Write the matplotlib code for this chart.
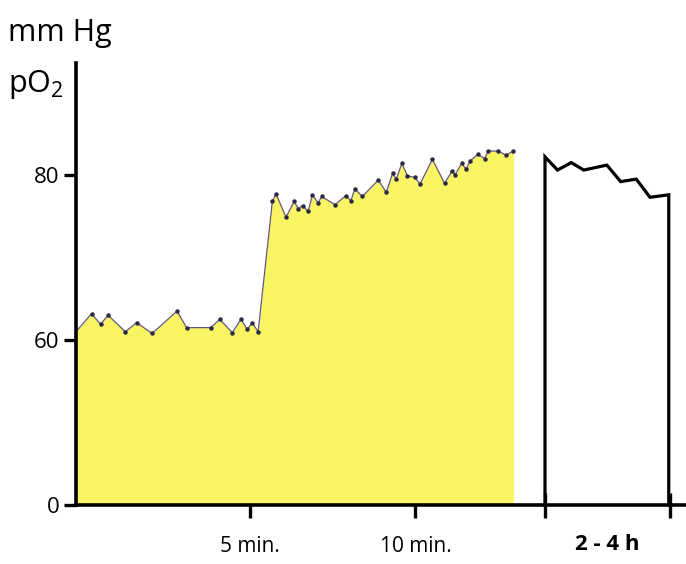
import numpy as np
import matplotlib
matplotlib.use("Agg")
import matplotlib.pyplot as plt

plt.rcParams['font.family'] = ['Open Sans', 'DejaVu Sans']
plt.rcParams['mathtext.fontset'] = 'custom'
plt.rcParams['mathtext.rm'] = 'Open Sans'

# ---- data (minutes, mm Hg) ----
t_min = [-0.25, 0.22, 0.49, 0.72, 1.24, 1.58, 2.05, 2.80, 3.09, 3.82, 4.09, 4.47,
         4.73, 4.92, 5.07, 5.25, 5.68, 5.79, 6.09, 6.34, 6.46, 6.59, 6.76, 6.89,
         7.06, 7.17, 7.57, 7.90, 8.05, 8.17, 8.40, 8.88, 9.12, 9.31, 9.42, 9.59,
         9.76, 9.98, 10.14, 10.51, 10.88, 11.11, 11.19, 11.40, 11.53, 11.65,
         11.88, 12.09, 12.20, 12.50, 12.73, 12.96]
po2_min = [61.0, 63.2, 61.9, 63.0, 61.0, 62.1, 60.8, 63.5, 61.5, 61.5, 62.5, 60.9,
           62.5, 61.3, 62.1, 61.0, 76.8, 77.7, 74.9, 76.8, 75.9, 76.3, 75.6, 77.6,
           76.6, 77.4, 76.4, 77.5, 76.9, 78.3, 77.4, 79.4, 77.9, 80.2, 79.5, 81.4,
           79.9, 79.7, 78.9, 81.9, 79.0, 80.5, 80.0, 81.4, 80.7, 81.7,
           82.5, 82.0, 82.9, 82.9, 82.4, 82.9]

# ---- data (hours, mm Hg) ----
t_h = [2.0, 2.0, 2.2, 2.42, 2.62, 2.99, 3.21, 3.46, 3.68, 3.98, 3.98]
po2_h = [0, 82.2, 80.6, 81.5, 80.6, 81.2, 79.2, 79.5, 77.3, 77.6, 0]

y_ticks = [0, 60, 80]
y_ticklabels = ['0', '60', '80']
x_ticks = [5, 10]
x_ticklabels = ['5 min.', '10 min.']


def fwd(v):
    v = np.asarray(v, dtype=float)
    return np.where(v < 60, 40 + v / 3.0, v)


def inv(u):
    u = np.asarray(u, dtype=float)
    return np.where(u < 60, (u - 40) * 3.0, u)


W, H = 686, 564
fig = plt.figure(figsize=(W / 100, H / 100), dpi=100)

ax_left, ax_right = 76, 686
ax_bot, ax_top = 505, 63
ax = fig.add_axes([ax_left / W, 1 - ax_bot / H, (ax_right - ax_left) / W, (ax_bot - ax_top) / H])
ax.set_yscale('function', functions=(fwd, inv))
ax.set_ylim(0, 80 + (175 - 63) / 8.25)
ax.set_xlim(-0.25, 18.17)

yellow = '#F9F562'
ax.fill_between(t_min, 0, po2_min, color=yellow, lw=0, zorder=1)
ax.plot(t_min, po2_min, color='#65557a', lw=0.9, zorder=2)
ax.plot(t_min[1:], po2_min[1:], ls='none', marker='o', ms=2.2, color='#2a2842', zorder=3)

for s in ['top', 'right']:
    ax.spines[s].set_visible(False)
for s in ['left', 'bottom']:
    ax.spines[s].set_linewidth(2.6)
    ax.spines[s].set_color('black')

ax.set_yticks(y_ticks)
ax.set_yticklabels(y_ticklabels)
ax.set_xticks(x_ticks)
ax.set_xticklabels(x_ticklabels)
ax.tick_params(axis='y', direction='out', length=9, width=2.4, labelsize=16, pad=3)
ax.tick_params(axis='x', direction='out', length=9, width=2.4, labelsize=15, pad=13)
ax.minorticks_off()

# right section (hours)
l2, r2 = 545, 670
ax2 = fig.add_axes([l2 / W, 1 - ax_bot / H, (r2 - l2) / W, (ax_bot - ax_top) / H])
ax2.patch.set_alpha(0)
ax2.set_yscale('function', functions=(fwd, inv))
ax2.set_ylim(ax.get_ylim())
ax2.set_xlim(2, 4)
for s in ax2.spines.values():
    s.set_visible(False)
ax2.set_yticks([])
ax2.plot(t_h, po2_h, color='black', lw=2.3, clip_on=False, solid_joinstyle='miter')
ax2.set_xticks([2, 4])
ax2.set_xticklabels(['', ''])
ax2.set_xticks([3], ['2 - 4 h'], minor=True)
ax2.tick_params(axis='x', which='major', direction='inout', length=18, width=2.4)
ax2.tick_params(axis='x', which='minor', length=0, labelsize=16, pad=21)
for lab in ax2.get_xticklabels(minor=True):
    lab.set_fontweight('bold')

fig.text(8 / W, 1 - 41 / H, 'mm Hg', fontsize=22, ha='left', va='baseline')
fig.text(8 / W, 1 - 92 / H, r'pO$_\mathregular{2}$', fontsize=22, ha='left', va='baseline')

fig.savefig('out.png', dpi=100)
